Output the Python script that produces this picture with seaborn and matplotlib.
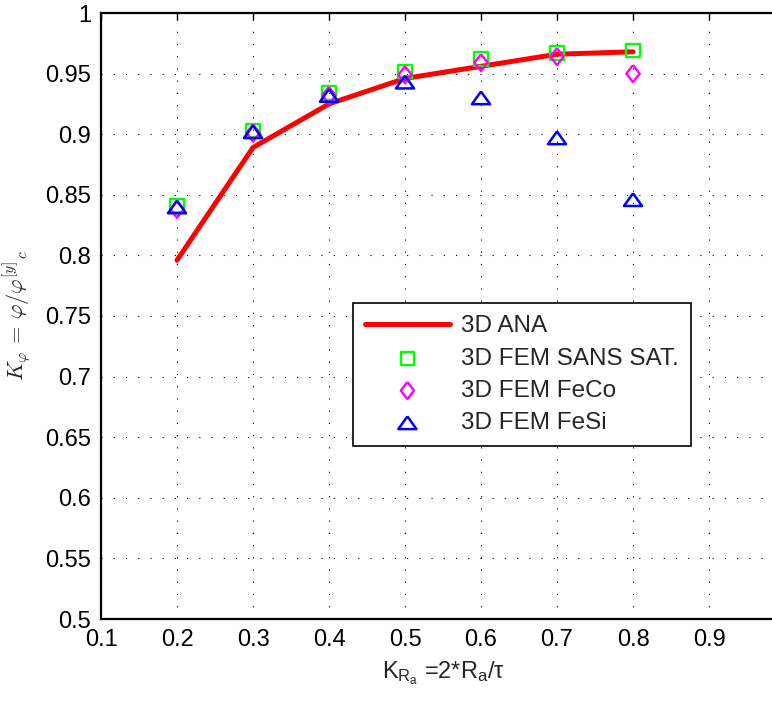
import numpy as np
import seaborn as sns
import matplotlib
matplotlib.use('Agg')
import matplotlib.pyplot as plt
from matplotlib.ticker import FormatStrFormatter, FuncFormatter

# data
k_ra = [0.2, 0.3, 0.4, 0.5, 0.6, 0.7, 0.8]
ana_3d = [0.796, 0.889, 0.925, 0.946, 0.956, 0.966, 0.968]
fem_sans_sat = [0.841, 0.903, 0.934, 0.952, 0.962, 0.967, 0.969]
fem_feco = [0.838, 0.901, 0.932, 0.949, 0.959, 0.964, 0.950]
fem_fesi = [0.840, 0.902, 0.932, 0.943, 0.930, 0.897, 0.846]

labels = ['3D ANA', '3D FEM SANS SAT.', '3D FEM FeCo', '3D FEM FeSi']
x_ticks = [0.1, 0.2, 0.3, 0.4, 0.5, 0.6, 0.7, 0.8, 0.9]
y_ticks = [0.5, 0.55, 0.6, 0.65, 0.7, 0.75, 0.8, 0.85, 0.9, 0.95, 1.0]

sns.set_style('white')
plt.rcParams['font.family'] = ['Liberation Sans', 'DejaVu Sans']
plt.rcParams['mathtext.fontset'] = 'custom'
plt.rcParams['mathtext.rm'] = 'Liberation Sans'
plt.rcParams['mathtext.it'] = 'Liberation Sans'

# matlab-like markers: squat triangle, tall diamond
tri = [(0, 0.7), (-1, -0.7), (1, -0.7), (0, 0.7)]
diamond = [(0, 1), (0.78, 0), (0, -1), (-0.78, 0), (0, 1)]

fig = plt.figure(figsize=(7.72, 7.05), dpi=100)
# axes runs a little past the right edge of the picture, like the reference
ax = fig.add_axes([101 / 772, 86 / 705, 684 / 772, 606 / 705])

sns.lineplot(x=k_ra, y=ana_3d, ax=ax, color='red', linewidth=3.6, label=labels[0])
sns.scatterplot(x=k_ra, y=fem_sans_sat, ax=ax, marker='s', s=90, facecolors='none',
                edgecolor=(0, 1, 0), linewidth=1.7, label=labels[1], zorder=3)
sns.scatterplot(x=k_ra, y=fem_feco, ax=ax, marker=diamond, s=150, facecolors='none',
                edgecolor=(1, 0, 1), linewidth=1.7, label=labels[2], zorder=3)
sns.scatterplot(x=k_ra, y=fem_fesi, ax=ax, marker=tri, s=170, facecolors='none',
                edgecolor=(0, 0, 1), linewidth=1.8, label=labels[3], zorder=4)

ax.set_xlim(0.1, 1.0)
ax.set_ylim(0.5, 1.0)
ax.set_xticks(x_ticks)
ax.set_yticks(y_ticks)
ax.xaxis.set_major_formatter(FormatStrFormatter('%g'))
ax.yaxis.set_major_formatter(FuncFormatter(lambda v, p: '%g' % round(v, 2)))
ax.tick_params(direction='in', top=True, right=True, length=5, width=1,
               labelsize=17, pad=7, colors='black')
ax.grid(True, color='black', linestyle=(0, (1, 10)), linewidth=0.8)
for side in ['left', 'bottom', 'top', 'right']:
    ax.spines[side].set_linewidth(1.6)
    ax.spines[side].set_color('black')

ax.set_xlabel('K$_{R_a}$ =2*R$_a$/τ', fontsize=17, labelpad=6)
ax.set_ylabel(r'$K_{\varphi}\,=\,\varphi/\varphi^{[y]}{}_{c}$', fontsize=16,
              math_fontfamily='cm')
ax.yaxis.set_label_coords(-0.099, 0.5)

leg = ax.legend(loc='lower left', bbox_to_anchor=(0.368, 0.285), fontsize=17.5,
                frameon=True, fancybox=False, edgecolor='black', framealpha=1,
                borderaxespad=0, handlelength=3.5, handletextpad=0.45,
                borderpad=0.5, labelspacing=0.42)
leg.get_frame().set_linewidth(1.2)

fig.savefig('out.png', dpi=100)
